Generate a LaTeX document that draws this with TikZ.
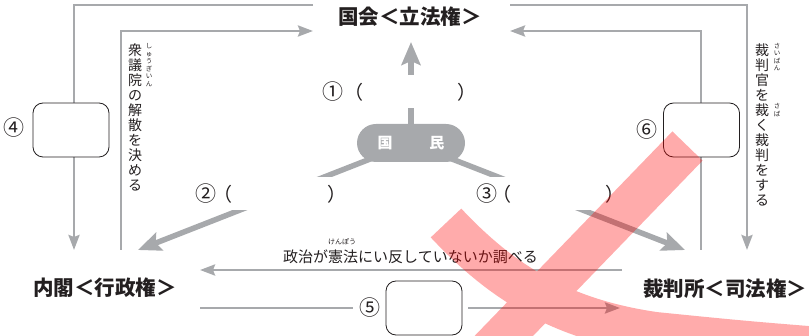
\documentclass[tikz,border=0pt]{standalone}
\usepackage{fontspec}
\setmainfont{Noto Sans CJK JP}
\usetikzlibrary{arrows.meta}
\definecolor{linegray}{RGB}{167,169,172}
\definecolor{ink}{RGB}{35,31,32}
\newcommand\circno[1]{{\fontsize{21bp}{21bp}\selectfont #1}}
\newcommand\bigp[1]{{\fontsize{19bp}{19bp}\selectfont #1}}

\begin{document}
\begin{tikzpicture}[>={Stealth[length=15bp,width=11bp,inset=2bp]},line join=miter,
  flow/.style={draw=linegray,line width=2.8bp},
  bigflow/.style={draw=linegray,line width=5.5bp,-{Stealth[length=23bp,width=19bp,inset=4bp]}},
  power/.style={font=\bfseries\fontsize{20.5bp}{24bp}\selectfont,text=ink,inner sep=2bp},
  citizen/.style={fill=linegray,rounded corners=19bp,minimum width=108bp,minimum height=38bp,
    inner sep=0pt,text=white,font=\bfseries\fontsize{15bp}{18bp}\selectfont},
  blank/.style={draw=ink,line width=0.8bp,rounded corners=10bp,fill=white,
    minimum width=76bp,minimum height=54bp,inner sep=0pt},
  tag/.style={font=\fontsize{15bp}{18bp}\selectfont,text=ink,inner sep=0pt},
  gap/.style={tag,fill=white,minimum height=33bp,anchor=west},
  note/.style={font=\fontsize{15bp}{18bp}\selectfont,text=ink,inner sep=1bp},
  vtext/.style={font=\fontsize{14bp}{15bp}\selectfont,text=ink,align=center,inner sep=0pt},
  ruby/.style={font=\fontsize{6.5bp}{7.5bp}\selectfont,text=ink,align=center,inner sep=0pt},
  xmark/.style={draw=red,draw opacity=0.33,line width=42bp}]
%%
\useasboundingbox (0bp,0bp) rectangle (809bp,336bp);
\coordinate (pc) at (411bp,193bp);
\coordinate (t1) at (411bp,294bp);
\coordinate (t2) at (138bp,86bp);
\coordinate (t3) at (685bp,86bp);
\coordinate (oL0) at (313bp,331bp);
\coordinate (oL1) at (74bp,331bp);
\coordinate (oL2) at (74bp,86bp);
\coordinate (iL0) at (121bp,86bp);
\coordinate (iL1) at (121bp,305bp);
\coordinate (iL2) at (313bp,305bp);
\coordinate (oR0) at (510bp,331bp);
\coordinate (oR1) at (747bp,331bp);
\coordinate (oR2) at (747bp,86bp);
\coordinate (iR0) at (701bp,86bp);
\coordinate (iR1) at (701bp,305bp);
\coordinate (iR2) at (510bp,305bp);
\coordinate (ck0) at (622bp,66bp);
\coordinate (ck1) at (200bp,66bp);
\coordinate (s5) at (200bp,28bp);
\coordinate (t5) at (620bp,28bp);
\draw [flow,->] (oL0) -- (oL1) -- (oL2);
\draw [flow,->] (iL0) -- (iL1) -- (iL2);
\draw [flow,->] (oR0) -- (oR1) -- (oR2);
\draw [flow,->] (iR0) -- (iR1) -- (iR2);
\draw [flow,->] (ck0) -- (ck1);
\draw [bigflow] (pc) -- (t1);
\draw [bigflow] (pc) -- (t2);
\draw [bigflow] (pc) -- (t3);
\node (diet) at (410bp,319bp) [power] {国会＜立法権＞};
\node (cabinet) at (105bp,48bp) [power] {内閣＜行政権＞};
\node (court) at (725bp,47bp) [power] {裁判所＜司法権＞};
\node (people) at (pc) [citizen] {国\hspace{37bp}民};
\node (lbl1) at (322bp,244bp) [gap] {\circno{①}\hspace{1.5bp}\bigp{（}\hspace{93.5bp}\bigp{）}};
\node (lbl2) at (195bp,142bp) [gap] {\circno{②}\hspace{-3bp}\bigp{（}\hspace{95bp}\bigp{）}};
\node (lbl3) at (476.5bp,142bp) [gap] {\circno{③}\hspace{-5bp}\bigp{（}\hspace{93.5bp}\bigp{）}};
\node (box4) at (71bp,206bp) [blank] {};
\node (lbl4) at (14bp,208bp) [tag] {\circno{④}};
\node (box6) at (701.5bp,206bp) [blank] {};
\node (lbl6) at (647bp,206bp) [tag] {\circno{⑥}};
\node (box5) at (424bp,28bp) [blank] {};
\node (lbl5) at (370bp,28bp) [tag] {\circno{⑤}};
\draw [flow,shorten >=6bp] (s5) -- (lbl5);
\draw [flow,->,shorten <=6bp] (box5) -- (t5);
\node (dissolve) at (135bp,219bp) [vtext] {衆\\議\\院\\の\\解\\散\\を\\決\\め\\る};
\node (dissolve-r) at (149bp,271bp) [ruby] {し\\ゅ\\う\\ぎ\\い\\ん};
\node (impeach) at (762bp,211.5bp) [vtext] {裁\\判\\官\\を\\裁\\く\\裁\\判\\を\\す\\る};
\node (impeach-r1) at (777bp,279bp) [ruby] {さ\\い\\ば\\ん};
\node (impeach-r2) at (777bp,226bp) [ruby] {さ\\ば};
\node (check) at (410.5bp,79bp) [note] {政治が憲法にい反していないか調べる};
\node (check-r) at (342bp,94bp) [ruby,font=\fontsize{7bp}{8bp}\selectfont] {けんぽう};
\begin{scope}
\clip (0bp,0bp) rectangle (809bp,336bp);
\draw [xmark] (687.5bp,190bp) -- (437bp,-69bp)
  (446bp,113bp) .. controls (505bp,50bp) and (565bp,16bp) .. (655bp,3bp)
  .. controls (745bp,-6bp) .. (845bp,-14bp);
\end{scope}
%
\end{tikzpicture}
\end{document}
